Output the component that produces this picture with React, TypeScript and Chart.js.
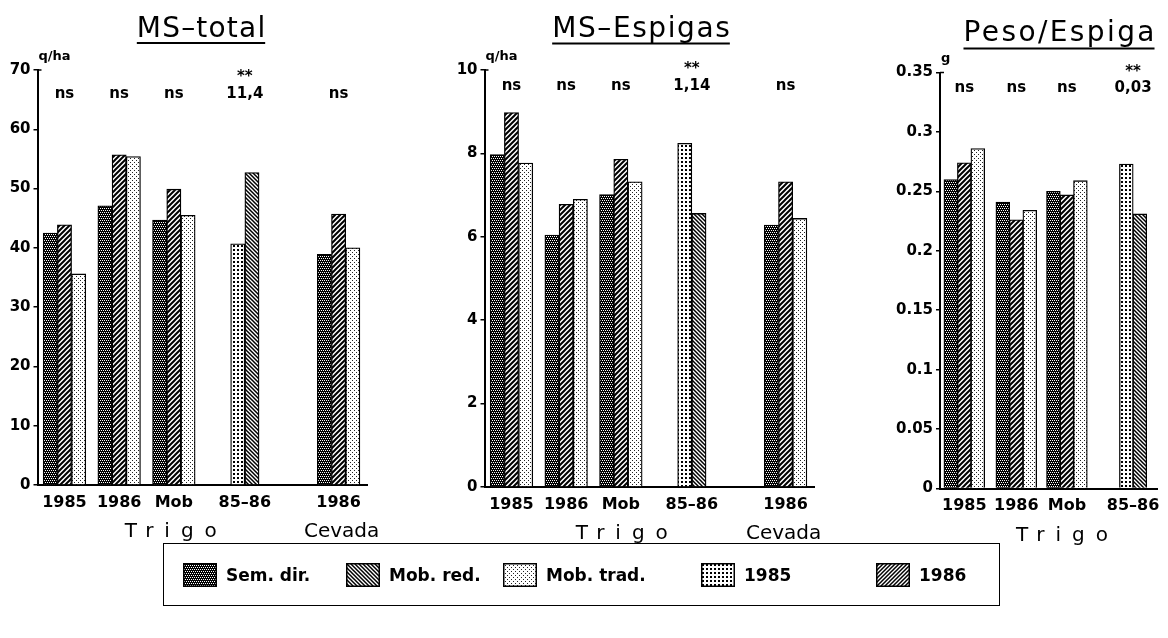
import { useEffect, useRef } from 'react';
import { Chart, registerables } from 'chart.js';

Chart.register(...registerables);

const FONT = '"DejaVu Sans", "Liberation Sans", sans-serif';

// ---------- data ----------
const trigoCevadaLabels = ['1985', '1986', 'Mob', '85–86', '1986'];
const trigoLabels = ['1985', '1986', 'Mob', '85–86'];

// MS-total (q/ha)
const totalSemDir = [42.5, 47.1, 44.7, null, 38.9];
const totalMobRed = [43.9, 55.7, 49.9, null, 45.7];
const totalMobTrad = [35.6, 55.4, 45.5, null, 40.0];
const total1985 = [null, null, null, 40.7, null];
const total1986 = [null, null, null, 52.7, null];
const totalSig = ['ns', 'ns', 'ns', '11,4', 'ns'];
const totalStars = ['', '', '', '**', ''];

// MS-Espigas (q/ha)
const espSemDir = [7.97, 6.04, 7.01, null, 6.28];
const espMobRed = [8.98, 6.78, 7.86, null, 7.32];
const espMobTrad = [7.77, 6.9, 7.32, null, 6.44];
const esp1985 = [null, null, null, 8.24, null];
const esp1986 = [null, null, null, 6.56, null];
const espSig = ['ns', 'ns', 'ns', '1,14', 'ns'];
const espStars = ['', '', '', '**', ''];

// Peso/Espiga (g)
const pesoSemDir = [0.26, 0.241, 0.25, null];
const pesoMobRed = [0.274, 0.226, 0.247, null];
const pesoMobTrad = [0.286, 0.234, 0.259, null];
const peso1985 = [null, null, null, 0.273];
const peso1986 = [null, null, null, 0.231];
const pesoSig = ['ns', 'ns', 'ns', '0,03'];
const pesoStars = ['', '', '', '**'];

const legendNames = ['Sem. dir.', 'Mob. red.', 'Mob. trad.', '1985', '1986'];

// ---------- layout ----------
// category centres along the x axis, measured in bar widths
const groupPos5 = [1.9, 5.75, 9.6, 14.6, 21.2];
const groupPos4 = [1.8, 5.65, 9.4, 14.3];
// offsets of each series inside its group (bar widths)
const seriesOffset = [-1, 0, 1, -0.5, 0.5];

type Pats = Record<string, CanvasPattern | string>;

function makePattern(size: number, draw: (g: CanvasRenderingContext2D, s: number) => void) {
  const c = document.createElement('canvas');
  c.width = size;
  c.height = size;
  const g = c.getContext('2d')!;
  draw(g, size);
  return g.createPattern(c, 'repeat')!;
}

function buildPatterns(): Pats {
  const dense = makePattern(4, (g) => {
    g.fillStyle = '#000';
    g.fillRect(0, 0, 4, 4);
    g.fillStyle = '#fff';
    g.fillRect(0, 0, 1, 1);
    g.fillRect(2, 0, 1, 1);
    g.fillRect(1, 2, 1, 1);
    g.fillRect(3, 2, 1, 1);
  });
  const stipple = makePattern(4, (g) => {
    g.fillStyle = '#fff';
    g.fillRect(0, 0, 4, 4);
    g.fillStyle = '#222';
    g.fillRect(0, 0, 1, 1);
    g.fillRect(2, 2, 1, 1);
  });
  const slash = (s: number, lw: number) =>
    makePattern(s, (g) => {
      g.fillStyle = '#fff';
      g.fillRect(0, 0, s, s);
      g.strokeStyle = '#000';
      g.lineWidth = lw;
      g.beginPath();
      g.moveTo(-1, s + 1);
      g.lineTo(s + 1, -1);
      g.moveTo(-s / 2 - 1, s / 2 + 1);
      g.lineTo(s / 2 + 1, -s / 2 - 1);
      g.moveTo(s / 2 - 1, s * 1.5 + 1);
      g.lineTo(s * 1.5 + 1, s / 2 - 1);
      g.stroke();
    });
  const backslash = (s: number, lw: number) =>
    makePattern(s, (g) => {
      g.fillStyle = '#fff';
      g.fillRect(0, 0, s, s);
      g.strokeStyle = '#000';
      g.lineWidth = lw;
      g.beginPath();
      g.moveTo(-1, -1);
      g.lineTo(s + 1, s + 1);
      g.moveTo(-s / 2 - 1, s / 2 - 1);
      g.lineTo(s / 2 + 1, s * 1.5 + 1);
      g.moveTo(s / 2 - 1, -s / 2 - 1);
      g.lineTo(s * 1.5 + 1, s / 2 + 1);
      g.stroke();
    });
  const dots = makePattern(4, (g) => {
    g.fillStyle = '#fff';
    g.fillRect(0, 0, 4, 4);
    g.fillStyle = '#000';
    g.fillRect(1, 1, 2, 2);
  });
  return {
    semDir: dense,
    mobRed: slash(5, 2),
    mobTrad: stipple,
    y1985: dots,
    y1986: backslash(4, 1.5),
    legendMobRed: backslash(4, 1.5),
    legendY1986: slash(4, 1.5),
  };
}

interface Panel {
  title: string;
  titleDx: number;
  titleBase: number;
  titleSpacing: number;
  underline: number;
  unit: string;
  left: number;
  right: number;
  top: number;
  bottom: number;
  yMax: number;
  yStep: number;
  yW: number;
  labels: string[];
  pos: number[];
  range: number;
  series: (number | null)[][];
  sig: string[];
  stars: string[];
  sigDy: number;
  starDy: number;
  captions: { text: string; group: number; spacing: number; dx: number }[];
  fmt?: (v: number) => string;
}

const panels: Panel[] = [
  {
    title: 'MS–total', titleDx: 163.5, titleBase: 37, titleSpacing: 1.2, underline: 42,
    unit: 'q/ha', left: 37.5, right: 367, top: 70, bottom: 485, yMax: 70, yStep: 10, yW: 37,
    labels: trigoCevadaLabels, pos: groupPos5, range: 23.2,
    series: [totalSemDir, totalMobRed, totalMobTrad, total1985, total1986],
    sig: totalSig, stars: totalStars, sigDy: 24, starDy: 3,
    captions: [{ text: 'Trigo', group: 2, spacing: 11, dx: -3 }, { text: 'Cevada', group: 4, spacing: 0, dx: 3 }],
  },
  {
    title: 'MS–Espigas', titleDx: 156.5, titleBase: 37, titleSpacing: 1.6, underline: 42.5,
    unit: 'q/ha', left: 484.5, right: 814, top: 70, bottom: 487, yMax: 10, yStep: 2, yW: 37,
    labels: trigoCevadaLabels, pos: groupPos5, range: 23.2,
    series: [espSemDir, espMobRed, espMobTrad, esp1985, esp1986],
    sig: espSig, stars: espStars, sigDy: 16, starDy: -5,
    captions: [{ text: 'Trigo', group: 2, spacing: 11, dx: 1 }, { text: 'Cevada', group: 4, spacing: 0, dx: -2 }],
  },
  {
    title: 'Peso/Espiga', titleDx: 119, titleBase: 40.5, titleSpacing: 2.4, underline: 47.5,
    unit: 'g', left: 940, right: 1162, top: 72.5, bottom: 488.5, yMax: 0.35, yStep: 0.05, yW: 50,
    labels: trigoLabels, pos: groupPos4, range: 16.1,
    series: [pesoSemDir, pesoMobRed, pesoMobTrad, peso1985, peso1986],
    sig: pesoSig, stars: pesoStars, sigDy: 16, starDy: -4,
    captions: [{ text: 'Trigo', group: 2, spacing: 11, dx: -5 }],
    fmt: (v) => String(Number(v.toFixed(2))),
  },
];

const seriesKeys = ['semDir', 'mobRed', 'mobTrad', 'y1985', 'y1986'];

function drawSpaced(ctx: CanvasRenderingContext2D, text: string, cx: number, y: number, spacing: number) {
  (ctx as any).letterSpacing = `${spacing}px`;
  const w = ctx.measureText(text).width - spacing;
  ctx.textAlign = 'left';
  ctx.fillText(text, cx - w / 2, y);
  (ctx as any).letterSpacing = '0px';
  return { x: cx - w / 2, w };
}

function annotations(p: Panel) {
  return {
    id: 'panelText',
    afterDraw(chart: Chart) {
      const { ctx, chartArea: a } = chart;
      const x = chart.scales.x;
      ctx.save();
      ctx.fillStyle = '#000';
      ctx.strokeStyle = '#000';

      // title with underline
      ctx.font = `28px ${FONT}`;
      ctx.textBaseline = 'alphabetic';
      const t = drawSpaced(ctx, p.title, a.left + p.titleDx, p.titleBase, p.titleSpacing);
      ctx.fillRect(t.x, p.underline, t.w, 2);

      // unit above the y axis
      ctx.font = `bold 13px ${FONT}`;
      ctx.textAlign = 'left';
      ctx.fillText(p.unit, a.left + 1, a.top - 10.5);

      // short tick to the right at the top of the axis
      ctx.lineWidth = 1.5;
      ctx.beginPath();
      ctx.moveTo(a.left, a.top);
      ctx.lineTo(a.left + 4, a.top);
      ctx.stroke();

      // significance notes
      ctx.font = `bold 15px ${FONT}`;
      ctx.textAlign = 'center';
      ctx.textBaseline = 'middle';
      p.sig.forEach((s, i) => {
        const px = x.getPixelForValue(p.pos[i]);
        ctx.fillText(s, px, a.top + p.sigDy);
        if (p.stars[i]) ctx.fillText(p.stars[i], px, a.top + p.starDy + 4);
      });

      // crop captions under the category labels
      ctx.font = `20px ${FONT}`;
      ctx.textBaseline = 'alphabetic';
      p.captions.forEach((c) => {
        drawSpaced(ctx, c.text, x.getPixelForValue(p.pos[c.group]) + c.dx, a.bottom + 52, c.spacing);
      });
      ctx.restore();
    },
  };
}

function buildConfig(p: Panel, pats: Pats): any {
  const xH = 30;
  const bw = (p.right - p.left) / p.range;
  const datasets = p.series.map((vals, si) => ({
    label: legendNames[si],
    data: vals
      .map((v, i) => (v == null ? null : { x: p.pos[i] + seriesOffset[si], y: v }))
      .filter((d) => d !== null),
    backgroundColor: pats[seriesKeys[si]],
    borderColor: '#000',
    borderWidth: 1.3,
    barThickness: bw,
    grouped: false,
  }));
  return {
    type: 'bar',
    data: { datasets },
    options: {
      responsive: false,
      animation: false,
      events: [],
      layout: {
        padding: {
          left: p.left - p.yW,
          right: 1168 - p.right,
          top: p.top,
          bottom: 638 - p.bottom - xH,
        },
      },
      plugins: { legend: { display: false }, tooltip: { enabled: false }, title: { display: false } },
      scales: {
        x: {
          type: 'linear',
          min: 0,
          max: p.range,
          offset: false,
          grid: { display: true, drawOnChartArea: false, drawTicks: false },
          border: { display: true, color: '#000', width: 2 },
          afterBuildTicks: (s: any) => {
            s.ticks = p.pos.map((v) => ({ value: v }));
          },
          afterFit: (s: any) => {
            s.height = xH;
          },
          ticks: {
            autoSkip: false,
            maxRotation: 0,
            padding: 8,
            color: '#000',
            font: { family: FONT, size: 16, weight: 'bold' },
            callback: (_v: number, i: number) => p.labels[i],
          },
        },
        y: {
          type: 'linear',
          min: 0,
          max: p.yMax,
          grid: { drawOnChartArea: false, drawTicks: true, tickLength: 4, color: '#000', lineWidth: 1.5 },
          border: { display: true, color: '#000', width: 2 },
          afterFit: (s: any) => {
            s.width = p.yW;
          },
          ticks: {
            stepSize: p.yStep,
            padding: 3,
            color: '#000',
            font: { family: FONT, size: 15, weight: 'bold' },
            callback: (v: number) => (p.fmt ? p.fmt(v) : String(v)),
          },
        },
      },
    },
    plugins: [annotations(p)],
  };
}

const legendLeft = [19, 182, 339, 537, 712];
const legendPatternKeys = ['semDir', 'legendMobRed', 'mobTrad', 'y1985', 'legendY1986'];

export default function App() {
  const c1 = useRef<HTMLCanvasElement>(null);
  const c2 = useRef<HTMLCanvasElement>(null);
  const c3 = useRef<HTMLCanvasElement>(null);
  const swatches = useRef<(HTMLCanvasElement | null)[]>([]);

  useEffect(() => {
    const pats = buildPatterns();
    const refs = [c1, c2, c3];
    const charts = panels.map((p, i) => new Chart(refs[i].current!, buildConfig(p, pats)));
    swatches.current.forEach((cv, i) => {
      if (!cv) return;
      const g = cv.getContext('2d')!;
      g.clearRect(0, 0, cv.width, cv.height);
      g.fillStyle = pats[legendPatternKeys[i]] as any;
      g.fillRect(0, 0, cv.width, cv.height);
      g.strokeStyle = '#000';
      g.lineWidth = 1.5;
      g.strokeRect(0.75, 0.75, cv.width - 1.5, cv.height - 1.5);
    });
    return () => charts.forEach((c) => c.destroy());
  }, []);

  const canvasStyle: React.CSSProperties = { position: 'absolute', left: 0, top: 0 };

  return (
    <div style={{ position: 'absolute', left: 0, top: 0, width: 1168, height: 638, background: '#fff', overflow: 'hidden' }}>
      <canvas ref={c1} width={1168} height={638} style={canvasStyle} />
      <canvas ref={c2} width={1168} height={638} style={canvasStyle} />
      <canvas ref={c3} width={1168} height={638} style={canvasStyle} />
      <div
        style={{
          position: 'absolute',
          left: 163,
          top: 543,
          width: 837,
          height: 63,
          border: '1.5px solid #000',
          boxSizing: 'border-box',
        }}
      >
        {legendNames.map((name, i) => (
          <div
            key={name}
            style={{
              position: 'absolute',
              left: legendLeft[i],
              top: 0,
              height: '100%',
              display: 'flex',
              alignItems: 'center',
              gap: 9,
            }}
          >
            <canvas
              ref={(el) => {
                swatches.current[i] = el;
              }}
              width={34}
              height={24}
            />
            <span style={{ font: `bold 17px ${FONT}`, color: '#000', whiteSpace: 'nowrap' }}>{name}</span>
          </div>
        ))}
      </div>
    </div>
  );
}
